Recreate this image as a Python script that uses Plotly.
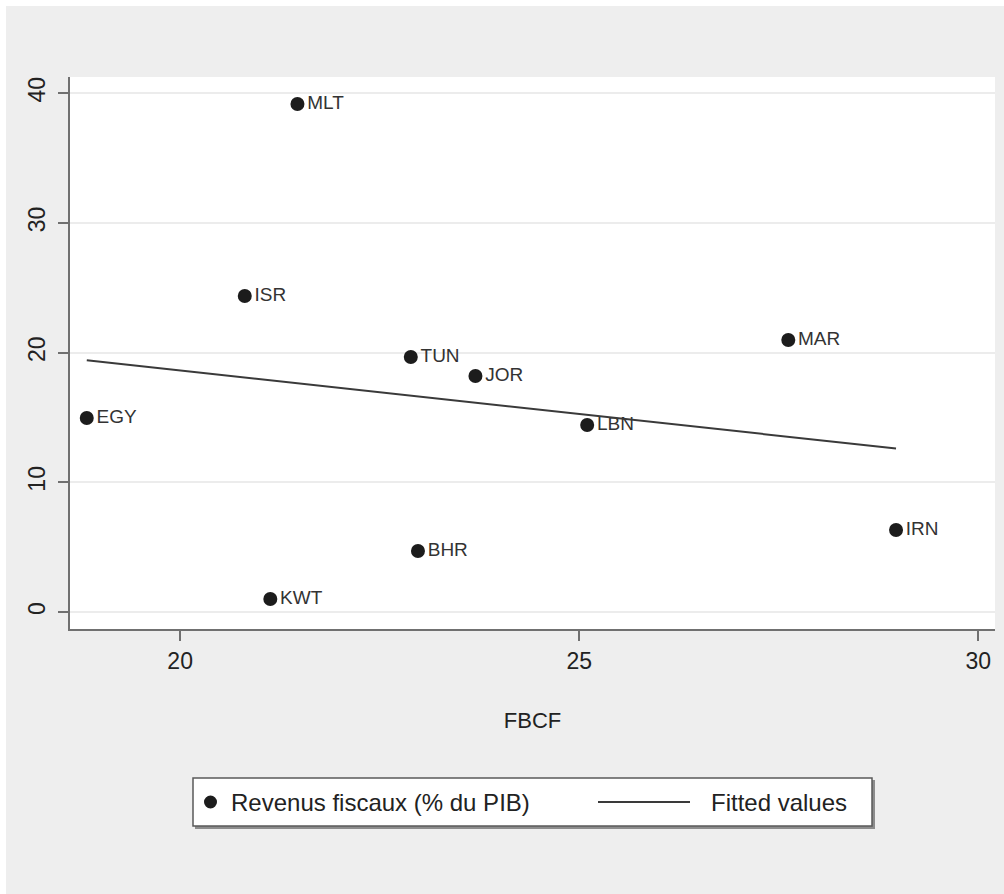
import numpy as np
import plotly.graph_objects as go

# Country data: gross fixed capital formation (FBCF) vs tax revenue (% of GDP)
countries = ["MLT", "ISR", "TUN", "JOR", "MAR", "EGY", "LBN", "IRN", "BHR", "KWT"]
fbcf = [21.47, 20.81, 22.89, 23.70, 27.62, 18.83, 25.10, 28.97, 22.98, 21.13]
revenus = [39.17, 24.36, 19.66, 18.20, 20.97, 14.96, 14.42, 6.32, 4.70, 1.00]

x_ticks = [20, 25, 30]
y_ticks = [0, 10, 20, 30, 40]

series_names = ["Revenus fiscaux (% du PIB)", "Fitted values"]

# Linear fit over the observed FBCF range
slope, intercept = np.polyfit(fbcf, revenus, 1)
fit_x = np.array([min(fbcf), max(fbcf)])
fit_y = slope * fit_x + intercept

FONT = "Liberation Sans, Arial, sans-serif"
TXT = "#222222"
W, H = 1004, 894
L, R, T, B = 70, 9, 77, 265
pw, ph = W - L - R, H - T - B


def px_x(p):
    return (p - L) / pw


def px_y(p):
    return (H - B - p) / ph


fig = go.Figure()

fig.add_trace(go.Scatter(
    x=fbcf, y=revenus, mode="markers+text",
    text=countries, textposition="middle right",
    textfont=dict(family=FONT, size=19, color="#333333"),
    marker=dict(size=14, color="#1c1c1c"),
    name=series_names[0],
    cliponaxis=False,
))

fig.add_trace(go.Scatter(
    x=fit_x, y=fit_y, mode="lines",
    line=dict(color="#3a3a3a", width=2),
    name=series_names[1],
))

# Legend geometry (pixels)
lg_x0, lg_x1, lg_y0, lg_y1 = 193, 872, 778, 826
lg_mid = (lg_y0 + lg_y1) / 2

shapes = [
    # outer grey graph region
    dict(type="rect", xref="paper", yref="paper", layer="below",
         x0=px_x(6), x1=px_x(W + 10), y0=px_y(H + 10), y1=px_y(6),
         fillcolor="#eeeeee", line=dict(width=0)),
    # white plot region
    dict(type="rect", xref="paper", yref="paper", layer="below",
         x0=0, x1=1, y0=0, y1=1,
         fillcolor="white", line=dict(width=0)),
    # legend drop shadow
    dict(type="rect", xref="paper", yref="paper", layer="below",
         x0=px_x(lg_x0 + 2), x1=px_x(lg_x1 + 3), y0=px_y(lg_y1 + 3), y1=px_y(lg_y0 + 2),
         fillcolor="#8c8c8c", line=dict(width=0)),
    # legend box
    dict(type="rect", xref="paper", yref="paper", layer="above",
         x0=px_x(lg_x0), x1=px_x(lg_x1), y0=px_y(lg_y1), y1=px_y(lg_y0),
         fillcolor="white", line=dict(color="#5a5a5a", width=1.5)),
    # legend key: marker
    dict(type="circle", xref="paper", yref="paper", layer="above",
         x0=px_x(204), x1=px_x(217), y0=px_y(lg_mid + 6.5), y1=px_y(lg_mid - 6.5),
         fillcolor="#1c1c1c", line=dict(width=0)),
    # legend key: fitted line
    dict(type="line", xref="paper", yref="paper", layer="above",
         x0=px_x(598), x1=px_x(690), y0=px_y(lg_mid), y1=px_y(lg_mid),
         line=dict(color="#3a3a3a", width=2)),
]

annotations = [
    dict(text=series_names[0], xref="paper", yref="paper",
         x=px_x(229), y=px_y(lg_mid), xanchor="left", yanchor="middle",
         showarrow=False, font=dict(family=FONT, size=24, color=TXT)),
    dict(text=series_names[1], xref="paper", yref="paper",
         x=px_x(709), y=px_y(lg_mid), xanchor="left", yanchor="middle",
         showarrow=False, font=dict(family=FONT, size=24, color=TXT)),
]

fig.update_layout(
    width=W, height=H,
    margin=dict(l=L, r=R, t=T, b=B, pad=0),
    paper_bgcolor="white",
    plot_bgcolor="rgba(0,0,0,0)",
    font=dict(family=FONT, color=TXT),
    shapes=shapes,
    annotations=annotations,
    showlegend=False,
)

fig.update_xaxes(
    range=[18.62, 30.21], tickvals=x_ticks, ticktext=[str(v) for v in x_ticks],
    showgrid=False, zeroline=False,
    showline=True, linecolor="#707070", linewidth=2,
    ticks="outside", ticklen=10, tickwidth=1.5, tickcolor="#707070",
    tickfont=dict(family=FONT, size=23, color=TXT),
    title=dict(text="FBCF", font=dict(family=FONT, size=22, color=TXT), standoff=40),
)

fig.update_yaxes(
    range=[-1.31, 41.25], tickvals=y_ticks, ticktext=[str(v) for v in y_ticks],
    showgrid=True, gridcolor="#ececec", gridwidth=1.5, zeroline=False,
    showline=True, linecolor="#707070", linewidth=2,
    ticks="outside", ticklen=10, tickwidth=1.5, tickcolor="#707070",
    tickangle=-90, ticklabelstandoff=4,
    tickfont=dict(family=FONT, size=23, color=TXT),
)

fig.write_html("out.html")
